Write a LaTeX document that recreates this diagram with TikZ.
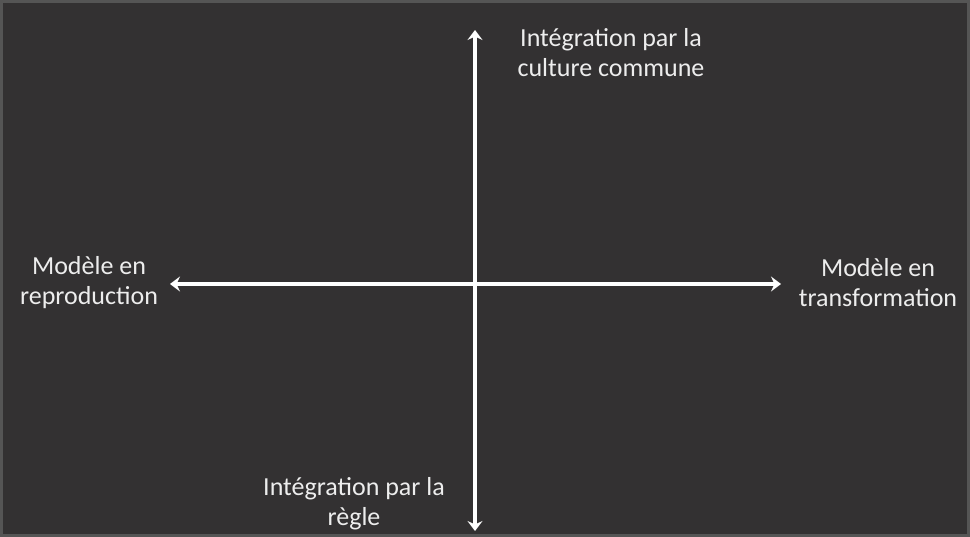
\documentclass[tikz,border=0pt]{standalone}
\usepackage{fontspec}
\setmainfont{Carlito}
\usetikzlibrary{arrows.meta}
\definecolor{bgdark}{HTML}{333132}
\definecolor{bgframe}{HTML}{555555}
\begin{document}
\begin{tikzpicture}[x=1pt,y=-1pt,
  axis/.style={white,line width=3.5pt,{Stealth[length=10pt,width=15pt,inset=3.5pt]}-{Stealth[length=10pt,width=15pt,inset=3.5pt]}},
  lbl/.style={text=white!93!black,font=\fontsize{26}{30}\selectfont,align=center,inner sep=0pt}]
\fill[bgframe] (0,0) rectangle (970,537);
\fill[bgdark] (3,3) rectangle (967,534);
\useasboundingbox (0,0) rectangle (970,537);
\coordinate (top) at (475,30);
\coordinate (bottom) at (475,531);
\coordinate (left) at (170,284);
\coordinate (right) at (781,284);
\draw[axis] (bottom) -- (top);
\draw[axis] (left) -- (right);
\node[lbl] (culture) at (611,53) {Intégration par la\\culture commune};
\node[lbl] (regle) at (354,504) {Intégration par la\\règle};
\node[lbl] (repro) at (89,283) {Modèle en\\reproduction};
\node[lbl] (transfo) at (878,283) {Modèle en\\transformation};
\end{tikzpicture}
\end{document}
